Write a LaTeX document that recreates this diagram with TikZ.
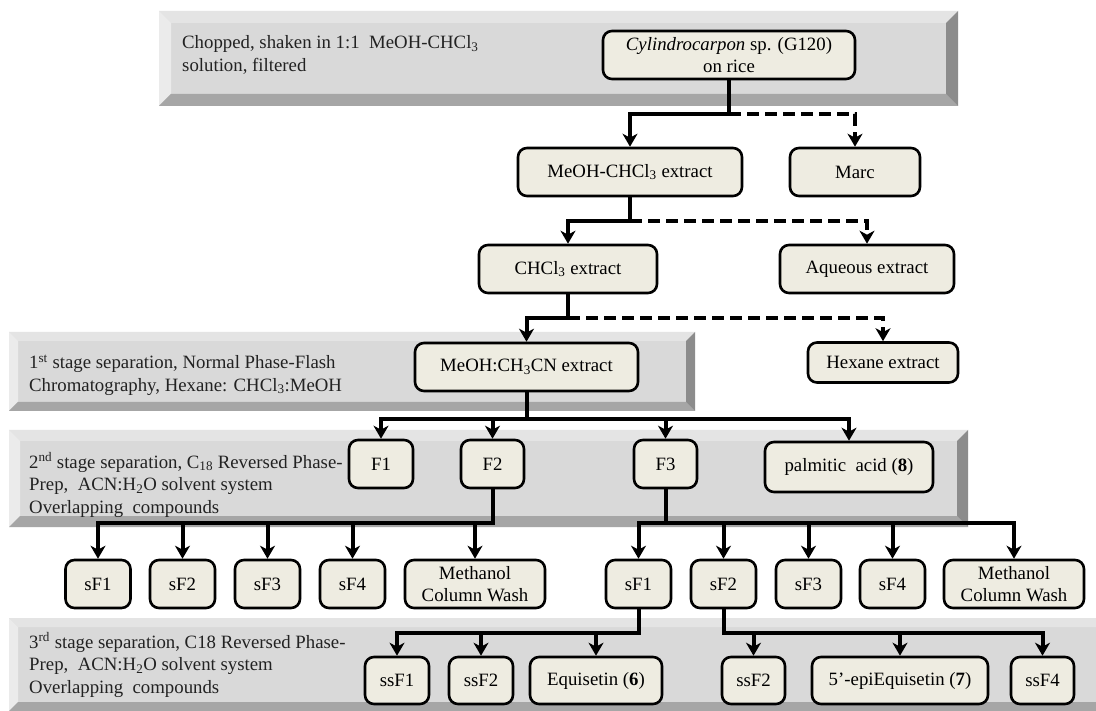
\documentclass[tikz,border=0pt]{standalone}
\usepackage{fontspec}
\setmainfont{Liberation Serif}
\usetikzlibrary{arrows.meta,calc}
\definecolor{boxfill}{HTML}{EEECE1}
\definecolor{bvface}{HTML}{D9D9D9}
\definecolor{bvtop}{HTML}{E4E4E4}
\definecolor{bvleft}{HTML}{EBEBEB}
\definecolor{bvbottom}{HTML}{A6A6A6}
\definecolor{bvright}{HTML}{8C8C8C}
\definecolor{txt}{HTML}{222222}
\newcommand\myfs{\fontsize{18.8}{22.5}\selectfont}
\newcommand\bevelbox[5]{%
  \fill[bvface] (#1,#2) rectangle (#3,#4);
  \fill[bvtop] (#1,#2) -- (#3,#2) -- (#3-#5,#2+#5) -- (#1+#5,#2+#5) -- cycle;
  \fill[bvleft] (#1,#2) -- (#1+#5,#2+#5) -- (#1+#5,#4-#5) -- (#1,#4) -- cycle;
  \fill[bvbottom] (#1,#4) -- (#1+#5,#4-#5) -- (#3-#5,#4-#5) -- (#3,#4) -- cycle;
  \fill[bvright] (#3,#2) -- (#3,#4) -- (#3-#5,#4-#5) -- (#3-#5,#2+#5) -- cycle;
}
\tikzset{
  box/.style={draw=black, line width=2.6pt, rounded corners=9pt, fill=boxfill,
    inner sep=0pt, align=center, font=\myfs, text=black},
  arr/.style={line width=4pt, -{Stealth[length=13pt,width=15pt,inset=4pt]}},
  darr/.style={arr, dash pattern=on 12pt off 6pt},
  lbl/.style={anchor=west, align=left, inner sep=0pt, font=\myfs, text=txt}
}
\begin{document}
\begin{tikzpicture}[x=1pt,y=-1pt]
\useasboundingbox (0,0) rectangle (1096,711);
\fill[white] (0,0) rectangle (1096,711);
% banners
\bevelbox{159}{11}{958}{106}{12}
\bevelbox{9}{332}{695}{411}{9}
\bevelbox{9}{430}{968}{527}{11}
\bevelbox{9}{618}{1120}{711}{9}
% banner labels
\node[lbl] (b1) at (182,55) {Chopped, shaken in 1:1\ \ MeOH-CHCl\textsubscript{3}\\solution, filtered};
\node[lbl] (b2) at (29,375) {1\textsuperscript{st} stage separation, Normal Phase-Flash\\Chromatography, Hexane: CHCl\textsubscript{3}:MeOH};
\node[lbl] (b3) at (29,485) {2\textsuperscript{nd} stage separation, C\textsubscript{18} Reversed Phase-\\Prep,\ \ ACN:H\textsubscript{2}O solvent system\\Overlapping\ \ compounds};
\node[lbl] (b4) at (29,665) {3\textsuperscript{rd} stage separation, C18 Reversed Phase-\\Prep,\ \ ACN:H\textsubscript{2}O solvent system\\Overlapping\ \ compounds};
% nodes
\node[box, minimum width=252pt, minimum height=48pt] (cyl) at (729,55) {\textit{Cylindrocarpon} sp. (G120)\\on rice};
\node[box, minimum width=224pt, minimum height=48pt] (meoh) at (630,172) {MeOH-CHCl\textsubscript{3} extract};
\node[box, minimum width=130pt, minimum height=48pt] (marc) at (855,172) {Marc};
\node[box, minimum width=178pt, minimum height=48pt] (chcl) at (568,269) {CHCl\textsubscript{3} extract};
\node[box, minimum width=174pt, minimum height=48pt] (aq) at (867,269) {Aqueous extract};
\node[box, minimum width=223pt, minimum height=48pt] (mecn) at (526.5,367) {MeOH:CH\textsubscript{3}CN extract};
\node[box, minimum width=150pt, minimum height=40pt] (hex) at (883,362.5) {Hexane extract};
\node[box, minimum width=64pt, minimum height=48pt] (f1) at (381,464) {F1};
\node[box, minimum width=63pt, minimum height=48pt] (f2) at (492.5,464) {F2};
\node[box, minimum width=63pt, minimum height=48pt] (f3) at (665.5,464) {F3};
\node[box, minimum width=168pt, minimum height=50pt] (palm) at (849,467) {palmitic\ \ acid (\textbf{8})};
% sF rows
\node[box, minimum width=65pt, minimum height=48pt] (lsf1) at (98,584) {sF1};
\node[box, minimum width=65pt, minimum height=48pt] (lsf2) at (182.5,584) {sF2};
\node[box, minimum width=65pt, minimum height=48pt] (lsf3) at (267.5,584) {sF3};
\node[box, minimum width=65pt, minimum height=48pt] (lsf4) at (352.5,584) {sF4};
\node[box, minimum width=140pt, minimum height=48pt] (lmcw) at (475,584) {Methanol\\Column Wash};
\node[box, minimum width=65pt, minimum height=48pt] (rsf1) at (638.5,584) {sF1};
\node[box, minimum width=65pt, minimum height=48pt] (rsf2) at (723.5,584) {sF2};
\node[box, minimum width=65pt, minimum height=48pt] (rsf3) at (808.5,584) {sF3};
\node[box, minimum width=65pt, minimum height=48pt] (rsf4) at (892.5,584) {sF4};
\node[box, minimum width=140pt, minimum height=48pt] (rmcw) at (1014,584) {Methanol\\Column Wash};
% ssF row
\node[box, minimum width=64pt, minimum height=47pt] (ssf1) at (397,680.5) {ssF1};
\node[box, minimum width=64pt, minimum height=47pt] (ssf2a) at (481,680.5) {ssF2};
\node[box, minimum width=132pt, minimum height=47pt] (equi) at (596,680.5) {Equisetin (\textbf{6})};
\node[box, minimum width=63pt, minimum height=47pt] (ssf2b) at (753.5,680.5) {ssF2};
\node[box, minimum width=176pt, minimum height=47pt] (epi) at (900,680.5) {5’-epiEquisetin (\textbf{7})};
\node[box, minimum width=63pt, minimum height=47pt] (ssf4) at (1042.5,680.5) {ssF4};
% junctions
\coordinate (j1) at ($(cyl.south)+(0,34)$);
\coordinate (j2) at ($(meoh.south)+(0,24)$);
\coordinate (j3) at ($(chcl.south)+(0,24)$);
\coordinate (j4) at ($(mecn.south)+(0,27)$);
\coordinate (j5) at ($(f2.south)+(0,34)$);
\coordinate (j6) at ($(f3.south)+(0,34)$);
\coordinate (j7) at ($(rsf1.south)+(0,24)$);
\coordinate (j8) at ($(rsf2.south)+(0,24)$);
% connectors
\draw[darr] (j1) -| (marc.north);
\draw[arr] (cyl.south) -- (j1) -| (meoh.north);
\draw[darr] (j2) -| (aq.north);
\draw[arr] (meoh.south) -- (j2) -| (chcl.north);
\draw[darr] (j3) -| (hex.north);
\draw[arr] (chcl.south) -- (j3) -| (mecn.north);
\draw[arr] (mecn.south) -- (j4) -| (f1.north);
\draw[arr] (j4) -| (f2.north);
\draw[arr] (j4) -| (f3.north);
\draw[arr] (j4) -| (palm.north);
\draw[arr] (f2.south) -- (j5) -| (lsf1.north);
\draw[arr] (j5) -| (lsf2.north);
\draw[arr] (j5) -| (lsf3.north);
\draw[arr] (j5) -| (lsf4.north);
\draw[arr] (j5) -| (lmcw.north);
\draw[arr] (f3.south) -- (j6) -| (rsf1.north);
\draw[arr] (j6) -| (rsf2.north);
\draw[arr] (j6) -| (rsf3.north);
\draw[arr] (j6) -| (rsf4.north);
\draw[arr] (j6) -| (rmcw.north);
\draw[arr] (rsf1.south) -- (j7) -| (ssf1.north);
\draw[arr] (j7) -| (ssf2a.north);
\draw[arr] (j7) -| (equi.north);
\draw[arr] (rsf2.south) -- (j8) -| (ssf2b.north);
\draw[arr] (j8) -| (epi.north);
\draw[arr] (j8) -| (ssf4.north);
\end{tikzpicture}
\end{document}
